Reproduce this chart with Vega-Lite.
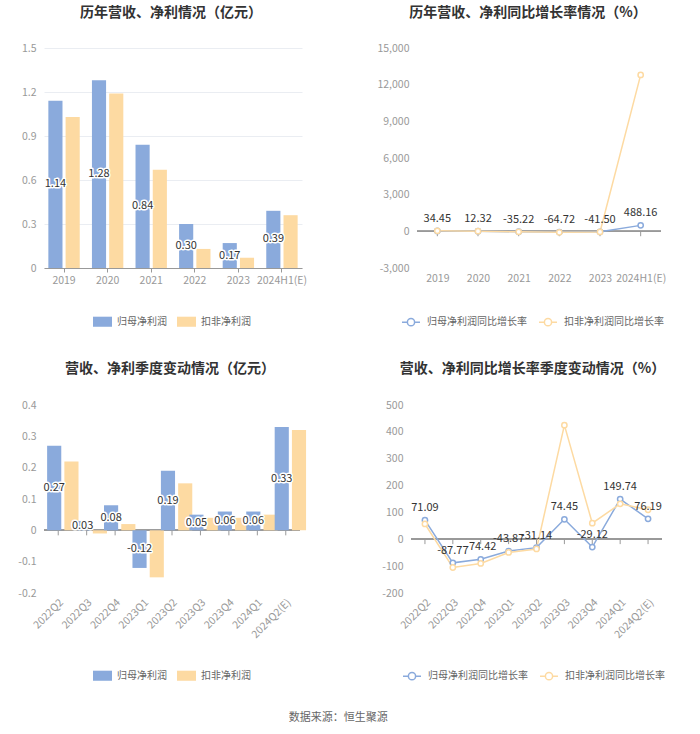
{
  "$schema": "https://vega.github.io/schema/vega-lite/v6.json",
  "padding": {"left": 11, "top": 6, "right": 5, "bottom": 5},
  "background": "white",
  "config": {
    "font": "Noto Sans CJK SC",
    "locale": {"number": {"decimal": ".", "thousands": ",", "grouping": [3], "currency": ["", ""], "minus": "-"}},
    "view": {"stroke": null},
    "axis": {"labelColor": "#999", "labelFontSize": 10.5, "gridColor": "#eaedf2", "domainColor": "#999", "tickColor": "#999", "title": null, "labelOverlap": false},
    "legend": {"labelFontSize": 10, "labelColor": "#666", "title": null}
  },
  "title": {"text": "数据来源：恒生聚源", "orient": "bottom", "anchor": "middle", "fontSize": 11, "color": "#666", "fontWeight": "normal", "offset": 29},
  "spacing": 33,
  "resolve": {"scale": {"color": "independent", "stroke": "independent"}, "legend": {"color": "independent", "stroke": "independent"}},
  "vconcat": [
    {
      "spacing": 69,
      "resolve": {"scale": {"color": "independent", "stroke": "independent"}, "legend": {"color": "independent", "stroke": "independent"}},
      "hconcat": [
        {
          "width": 258,
          "height": 220,
          "title": {"text": "历年营收、净利情况（亿元）", "fontSize": 14, "fontWeight": "bold", "color": "#333", "anchor": "middle", "dx": -2, "offset": 23},
          "data": {"values": [
            {"year": "2019", "type": "归母净利润", "v": 1.14},
            {"year": "2019", "type": "扣非净利润", "v": 1.03},
            {"year": "2020", "type": "归母净利润", "v": 1.28},
            {"year": "2020", "type": "扣非净利润", "v": 1.19},
            {"year": "2021", "type": "归母净利润", "v": 0.84},
            {"year": "2021", "type": "扣非净利润", "v": 0.67},
            {"year": "2022", "type": "归母净利润", "v": 0.30},
            {"year": "2022", "type": "扣非净利润", "v": 0.13},
            {"year": "2023", "type": "归母净利润", "v": 0.17},
            {"year": "2023", "type": "扣非净利润", "v": 0.07},
            {"year": "2024H1(E)", "type": "归母净利润", "v": 0.39},
            {"year": "2024H1(E)", "type": "扣非净利润", "v": 0.36}
          ]},
          "encoding": {
            "x": {"field": "year", "type": "nominal", "sort": null, "scale": {"paddingInner": 0.28, "paddingOuter": 0.1}, "axis": {"labelAngle": 0, "domain": true, "ticks": true, "tickSize": 4, "grid": false, "labelPadding": 3}},
            "xOffset": {"field": "type", "type": "nominal", "sort": ["归母净利润", "扣非净利润"], "scale": {"paddingInner": 0.18, "paddingOuter": 0}}
          },
          "layer": [
            {
              "mark": {"type": "bar"},
              "encoding": {
                "y": {"field": "v", "type": "quantitative", "scale": {"domain": [0, 1.5], "nice": false}, "axis": {"values": [0, 0.3, 0.6, 0.9, 1.2, 1.5], "format": "~g", "domain": false, "ticks": false, "labelPadding": 8, "minExtent": 33, "maxExtent": 33}},
                "color": {"field": "type", "type": "nominal", "sort": ["归母净利润", "扣非净利润"], "scale": {"domain": ["归母净利润", "扣非净利润"], "range": ["#8aaadc", "#fddaa2"]},
                  "legend": {"orient": "none", "legendX": 49, "legendY": 264, "direction": "horizontal", "symbolType": "M-1,-0.53L1,-0.53L1,0.53L-1,0.53Z", "symbolSize": 361, "symbolStrokeWidth": 0, "columnPadding": 10, "labelOffset": 5}}
              }
            },
            {
              "transform": [{"filter": "datum.type === '归母净利润'"}, {"calculate": "datum.v / 2", "as": "mid"}],
              "mark": {"type": "text", "fontSize": 11, "stroke": "white", "strokeWidth": 3, "strokeJoin": "round", "color": "white"},
              "encoding": {
                "y": {"field": "mid", "type": "quantitative", "axis": {"values": [0, 0.3, 0.6, 0.9, 1.2, 1.5], "format": "~g", "domain": false, "ticks": false, "labelPadding": 8, "minExtent": 33, "maxExtent": 33}},
                "text": {"field": "v", "type": "quantitative", "format": ".2f"}
              }
            },
            {
              "transform": [{"filter": "datum.type === '归母净利润'"}, {"calculate": "datum.v / 2", "as": "mid"}],
              "mark": {"type": "text", "fontSize": 11, "color": "#333"},
              "encoding": {
                "y": {"field": "mid", "type": "quantitative", "axis": {"values": [0, 0.3, 0.6, 0.9, 1.2, 1.5], "format": "~g", "domain": false, "ticks": false, "labelPadding": 8, "minExtent": 33, "maxExtent": 33}},
                "text": {"field": "v", "type": "quantitative", "format": ".2f"}
              }
            }
          ]
        },
        {
          "width": 244,
          "height": 220,
          "title": {"text": "历年营收、净利同比增长率情况（%）", "fontSize": 14, "fontWeight": "bold", "color": "#333", "anchor": "middle", "dx": -11, "offset": 23},
          "data": {"values": [
            {"year": "2019", "type": "归母净利润同比增长率", "v": 34.45},
            {"year": "2020", "type": "归母净利润同比增长率", "v": 12.32},
            {"year": "2021", "type": "归母净利润同比增长率", "v": -35.22},
            {"year": "2022", "type": "归母净利润同比增长率", "v": -64.72},
            {"year": "2023", "type": "归母净利润同比增长率", "v": -41.50},
            {"year": "2024H1(E)", "type": "归母净利润同比增长率", "v": 488.16},
            {"year": "2019", "type": "扣非净利润同比增长率", "v": 40},
            {"year": "2020", "type": "扣非净利润同比增长率", "v": 15.5},
            {"year": "2021", "type": "扣非净利润同比增长率", "v": -43.7},
            {"year": "2022", "type": "扣非净利润同比增长率", "v": -80.6},
            {"year": "2023", "type": "扣非净利润同比增长率", "v": -46},
            {"year": "2024H1(E)", "type": "扣非净利润同比增长率", "v": 12800}
          ]},
          "layer": [
            {
              "mark": {"type": "rule", "color": "#999", "strokeWidth": 1},
              "encoding": {"y": {"datum": 0, "type": "quantitative", "scale": {"domain": [-3000, 15000], "nice": false}, "axis": {"values": [-3000, 0, 3000, 6000, 9000, 12000, 15000], "format": ",d", "domain": false, "ticks": false, "labelPadding": 8, "minExtent": 40, "maxExtent": 40}}}
            },
            {
              "encoding": {
                "x": {"field": "year", "type": "nominal", "sort": null, "scale": {"type": "point", "padding": 0.5}, "axis": {"labelAngle": 0, "domain": false, "ticks": false, "grid": false, "labelPadding": 5}},
                "y": {"field": "v", "type": "quantitative", "axis": {"values": [-3000, 0, 3000, 6000, 9000, 12000, 15000], "format": ",d", "domain": false, "ticks": false, "labelPadding": 8, "minExtent": 40, "maxExtent": 40}}
              },
              "layer": [
                {
                  "transform": [{"filter": "datum.type === '归母净利润同比增长率'"}],
                  "mark": {"type": "rule", "color": "#999", "strokeWidth": 1},
                  "encoding": {"y": {"datum": 0, "type": "quantitative", "axis": {"values": [-3000, 0, 3000, 6000, 9000, 12000, 15000], "format": ",d", "domain": false, "ticks": false, "labelPadding": 8, "minExtent": 40, "maxExtent": 40}}, "y2": {"datum": -400}}
                },
                {
                  "mark": {"type": "line", "strokeWidth": 1.5},
                  "encoding": {
                    "stroke": {"field": "type", "type": "nominal", "sort": ["归母净利润同比增长率", "扣非净利润同比增长率"], "scale": {"domain": ["归母净利润同比增长率", "扣非净利润同比增长率"], "range": ["#8aaadc", "#fddaa2"]},
                      "legend": {"orient": "none", "legendX": -16, "legendY": 264, "direction": "horizontal", "symbolType": "M-1,0L-0.4,0M0.4,0L1,0M0.4,0A0.4,0.4,0,1,1,-0.4,0A0.4,0.4,0,1,1,0.4,0", "symbolSize": 324, "symbolFillColor": "white", "symbolStrokeWidth": 1.5, "columnPadding": 9, "labelOffset": 6}}
                  }
                },
                {
                  "mark": {"type": "point", "filled": true, "fill": "white", "size": 28, "strokeWidth": 1.5, "opacity": 1},
                  "encoding": {
                    "stroke": {"field": "type", "type": "nominal", "sort": ["归母净利润同比增长率", "扣非净利润同比增长率"]}
                  }
                },
                {
                  "transform": [{"filter": "datum.type === '归母净利润同比增长率'"}],
                  "mark": {"type": "text", "fontSize": 11, "color": "#333", "dy": -12},
                  "encoding": {"text": {"field": "v", "type": "quantitative", "format": ".2f"}}
                }
              ]
            }
          ]
        }
      ]
    },
    {
      "spacing": 71,
      "resolve": {"scale": {"color": "independent", "stroke": "independent"}, "legend": {"color": "independent", "stroke": "independent"}},
      "hconcat": [
        {
          "width": 256,
          "height": 188,
          "title": {"text": "营收、净利季度变动情况（亿元）", "fontSize": 14, "fontWeight": "bold", "color": "#333", "anchor": "middle", "dx": -2, "offset": 24},
          "data": {"values": [
            {"q": "2022Q2", "type": "归母净利润", "v": 0.27},
            {"q": "2022Q2", "type": "扣非净利润", "v": 0.22},
            {"q": "2022Q3", "type": "归母净利润", "v": 0.03},
            {"q": "2022Q3", "type": "扣非净利润", "v": -0.01},
            {"q": "2022Q4", "type": "归母净利润", "v": 0.08},
            {"q": "2022Q4", "type": "扣非净利润", "v": 0.02},
            {"q": "2023Q1", "type": "归母净利润", "v": -0.12},
            {"q": "2023Q1", "type": "扣非净利润", "v": -0.15},
            {"q": "2023Q2", "type": "归母净利润", "v": 0.19},
            {"q": "2023Q2", "type": "扣非净利润", "v": 0.15},
            {"q": "2023Q3", "type": "归母净利润", "v": 0.05},
            {"q": "2023Q3", "type": "扣非净利润", "v": 0.04},
            {"q": "2023Q4", "type": "归母净利润", "v": 0.06},
            {"q": "2023Q4", "type": "扣非净利润", "v": 0.04},
            {"q": "2024Q1", "type": "归母净利润", "v": 0.06},
            {"q": "2024Q1", "type": "扣非净利润", "v": 0.05},
            {"q": "2024Q2(E)", "type": "归母净利润", "v": 0.33},
            {"q": "2024Q2(E)", "type": "扣非净利润", "v": 0.32}
          ]},
          "layer": [
            {
              "mark": {"type": "rule", "color": "#999", "strokeWidth": 1},
              "encoding": {"y": {"datum": 0, "type": "quantitative", "scale": {"domain": [-0.2, 0.4], "nice": false}, "axis": {"values": [-0.2, -0.1, 0, 0.1, 0.2, 0.3, 0.4], "format": "~g", "domain": false, "ticks": false, "labelPadding": 8, "minExtent": 33, "maxExtent": 33}}}
            },
            {
              "encoding": {
                "x": {"field": "q", "type": "nominal", "sort": null, "scale": {"paddingInner": 0.22, "paddingOuter": 0.11}, "axis": {"labelAngle": -45, "domain": false, "ticks": false, "grid": false, "labelPadding": 4}}
              },
              "layer": [
                {
                  "transform": [{"filter": "datum.type === '归母净利润'"}],
                  "mark": {"type": "rule", "color": "#999", "strokeWidth": 1},
                  "encoding": {"y": {"datum": 0, "type": "quantitative", "axis": {"values": [-0.2, -0.1, 0, 0.1, 0.2, 0.3, 0.4], "format": "~g", "domain": false, "ticks": false, "labelPadding": 8, "minExtent": 33, "maxExtent": 33}}, "y2": {"datum": -0.016}}
                },
                {
                  "mark": {"type": "bar"},
                  "encoding": {
                    "xOffset": {"field": "type", "type": "nominal", "sort": ["归母净利润", "扣非净利润"], "scale": {"paddingInner": 0.18, "paddingOuter": 0}},
                    "y": {"field": "v", "type": "quantitative", "axis": {"values": [-0.2, -0.1, 0, 0.1, 0.2, 0.3, 0.4], "format": "~g", "domain": false, "ticks": false, "labelPadding": 8, "minExtent": 33, "maxExtent": 33}},
                    "color": {"field": "type", "type": "nominal", "sort": ["归母净利润", "扣非净利润"], "scale": {"domain": ["归母净利润", "扣非净利润"], "range": ["#8aaadc", "#fddaa2"]},
                      "legend": {"orient": "none", "legendX": 49, "legendY": 261, "direction": "horizontal", "symbolType": "M-1,-0.53L1,-0.53L1,0.53L-1,0.53Z", "symbolSize": 361, "symbolStrokeWidth": 0, "columnPadding": 10, "labelOffset": 5}}
                  }
                },
                {
                  "transform": [{"filter": "datum.type === '归母净利润'"}, {"calculate": "datum.v / 2", "as": "mid"}],
                  "mark": {"type": "text", "fontSize": 11, "stroke": "white", "strokeWidth": 3, "strokeJoin": "round", "color": "white"},
                  "encoding": {
                    "xOffset": {"field": "type", "type": "nominal", "sort": ["归母净利润", "扣非净利润"]},
                    "y": {"field": "mid", "type": "quantitative", "axis": {"values": [-0.2, -0.1, 0, 0.1, 0.2, 0.3, 0.4], "format": "~g", "domain": false, "ticks": false, "labelPadding": 8, "minExtent": 33, "maxExtent": 33}},
                    "text": {"field": "v", "type": "quantitative", "format": ".2f"}
                  }
                },
                {
                  "transform": [{"filter": "datum.type === '归母净利润'"}, {"calculate": "datum.v / 2", "as": "mid"}],
                  "mark": {"type": "text", "fontSize": 11, "color": "#333"},
                  "encoding": {
                    "xOffset": {"field": "type", "type": "nominal", "sort": ["归母净利润", "扣非净利润"]},
                    "y": {"field": "mid", "type": "quantitative", "axis": {"values": [-0.2, -0.1, 0, 0.1, 0.2, 0.3, 0.4], "format": "~g", "domain": false, "ticks": false, "labelPadding": 8, "minExtent": 33, "maxExtent": 33}},
                    "text": {"field": "v", "type": "quantitative", "format": ".2f"}
                  }
                }
              ]
            }
          ]
        },
        {
          "width": 251,
          "height": 188,
          "title": {"text": "营收、净利同比增长率季度变动情况（%）", "fontSize": 14, "fontWeight": "bold", "color": "#333", "anchor": "middle", "dx": -4, "offset": 24},
          "data": {"values": [
            {"q": "2022Q2", "type": "归母净利润同比增长率", "v": 71.09},
            {"q": "2022Q3", "type": "归母净利润同比增长率", "v": -87.77},
            {"q": "2022Q4", "type": "归母净利润同比增长率", "v": -74.42},
            {"q": "2023Q1", "type": "归母净利润同比增长率", "v": -43.87},
            {"q": "2023Q2", "type": "归母净利润同比增长率", "v": -31.14},
            {"q": "2023Q3", "type": "归母净利润同比增长率", "v": 74.45},
            {"q": "2023Q4", "type": "归母净利润同比增长率", "v": -29.12},
            {"q": "2024Q1", "type": "归母净利润同比增长率", "v": 149.74},
            {"q": "2024Q2(E)", "type": "归母净利润同比增长率", "v": 76.19},
            {"q": "2022Q2", "type": "扣非净利润同比增长率", "v": 57},
            {"q": "2022Q3", "type": "扣非净利润同比增长率", "v": -105},
            {"q": "2022Q4", "type": "扣非净利润同比增长率", "v": -90},
            {"q": "2023Q1", "type": "扣非净利润同比增长率", "v": -49},
            {"q": "2023Q2", "type": "扣非净利润同比增长率", "v": -36},
            {"q": "2023Q3", "type": "扣非净利润同比增长率", "v": 425},
            {"q": "2023Q4", "type": "扣非净利润同比增长率", "v": 60},
            {"q": "2024Q1", "type": "扣非净利润同比增长率", "v": 132},
            {"q": "2024Q2(E)", "type": "扣非净利润同比增长率", "v": 110}
          ]},
          "layer": [
            {
              "mark": {"type": "rule", "color": "#999", "strokeWidth": 1},
              "encoding": {"y": {"datum": 0, "type": "quantitative", "scale": {"domain": [-200, 500], "nice": false}, "axis": {"values": [-200, -100, 0, 100, 200, 300, 400, 500], "domain": false, "ticks": false, "labelPadding": 8, "minExtent": 33, "maxExtent": 33}}}
            },
            {
              "encoding": {
                "x": {"field": "q", "type": "nominal", "sort": null, "scale": {"type": "point", "padding": 0.5}, "axis": {"labelAngle": -45, "domain": false, "ticks": false, "grid": false, "labelPadding": 4}},
                "y": {"field": "v", "type": "quantitative", "axis": {"values": [-200, -100, 0, 100, 200, 300, 400, 500], "domain": false, "ticks": false, "labelPadding": 8, "minExtent": 33, "maxExtent": 33}}
              },
              "layer": [
                {
                  "transform": [{"filter": "datum.type === '归母净利润同比增长率'"}],
                  "mark": {"type": "rule", "color": "#999", "strokeWidth": 1},
                  "encoding": {"y": {"datum": 0, "type": "quantitative", "axis": {"values": [-200, -100, 0, 100, 200, 300, 400, 500], "domain": false, "ticks": false, "labelPadding": 8, "minExtent": 33, "maxExtent": 33}}, "y2": {"datum": -18}}
                },
                {
                  "mark": {"type": "line", "strokeWidth": 1.5},
                  "encoding": {
                    "stroke": {"field": "type", "type": "nominal", "sort": ["归母净利润同比增长率", "扣非净利润同比增长率"], "scale": {"domain": ["归母净利润同比增长率", "扣非净利润同比增长率"], "range": ["#8aaadc", "#fddaa2"]},
                      "legend": {"orient": "none", "legendX": -9, "legendY": 261, "direction": "horizontal", "symbolType": "M-1,0L-0.4,0M0.4,0L1,0M0.4,0A0.4,0.4,0,1,1,-0.4,0A0.4,0.4,0,1,1,0.4,0", "symbolSize": 324, "symbolFillColor": "white", "symbolStrokeWidth": 1.5, "columnPadding": 9, "labelOffset": 6}}
                  }
                },
                {
                  "mark": {"type": "point", "filled": true, "fill": "white", "size": 28, "strokeWidth": 1.5, "opacity": 1},
                  "encoding": {
                    "stroke": {"field": "type", "type": "nominal", "sort": ["归母净利润同比增长率", "扣非净利润同比增长率"]}
                  }
                },
                {
                  "transform": [{"filter": "datum.type === '归母净利润同比增长率'"}],
                  "mark": {"type": "text", "fontSize": 11, "color": "#333", "dy": -12},
                  "encoding": {"text": {"field": "v", "type": "quantitative", "format": ".2f"}}
                }
              ]
            }
          ]
        }
      ]
    }
  ]
}
